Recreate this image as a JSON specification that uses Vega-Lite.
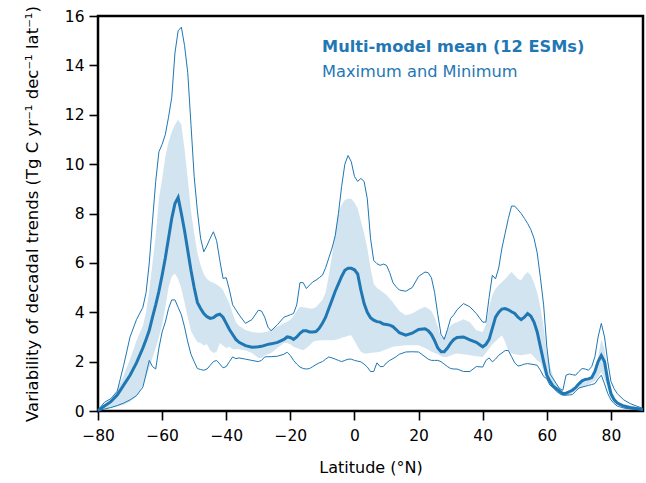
{
  "$schema": "https://vega.github.io/schema/vega-lite/v6.json",
  "width": 545,
  "height": 395,
  "autosize": {"type": "none"},
  "padding": {"left": 98, "top": 16, "right": 3, "bottom": 72},
  "config": {
    "font": "DejaVu Sans",
    "view": {"stroke": "black", "strokeWidth": 2.5},
    "axis": {
      "grid": false,
      "domain": false,
      "labelFontSize": 15.5,
      "titleFontSize": 16,
      "labelColor": "black",
      "titleColor": "black",
      "titleFontWeight": "normal",
      "tickColor": "black",
      "tickSize": 9,
      "tickWidth": 1.6,
      "labelPadding": 5,
      "labelFlush": false
    }
  },
  "data": {"values": [
    {"lat":-80,"mean":0.02,"max":0.03,"min":0.0,"lo":0.0,"hi":0.02},
    {"lat":-78,"mean":0.2,"max":0.35,"min":0.08,"lo":0.08,"hi":0.22},
    {"lat":-76,"mean":0.38,"max":0.5,"min":0.14,"lo":0.13,"hi":0.45},
    {"lat":-74,"mean":0.65,"max":0.8,"min":0.22,"lo":0.18,"hi":0.85},
    {"lat":-72,"mean":1.05,"max":1.85,"min":0.32,"lo":0.25,"hi":1.45},
    {"lat":-70,"mean":1.45,"max":3.0,"min":0.45,"lo":0.38,"hi":2.1},
    {"lat":-68,"mean":1.95,"max":3.7,"min":0.62,"lo":0.6,"hi":2.85},
    {"lat":-66,"mean":2.55,"max":4.2,"min":0.97,"lo":1.05,"hi":3.45},
    {"lat":-65,"mean":2.9,"max":4.8,"min":1.5,"lo":1.38,"hi":4.0},
    {"lat":-64,"mean":3.27,"max":6.0,"min":2.05,"lo":1.75,"hi":4.9},
    {"lat":-63,"mean":3.8,"max":7.7,"min":1.8,"lo":2.15,"hi":6.0},
    {"lat":-62,"mean":4.3,"max":9.3,"min":1.7,"lo":2.55,"hi":7.1},
    {"lat":-61,"mean":4.85,"max":10.5,"min":2.55,"lo":3.0,"hi":8.6},
    {"lat":-60,"mean":5.5,"max":10.8,"min":3.2,"lo":3.5,"hi":9.4},
    {"lat":-59,"mean":6.2,"max":11.2,"min":3.6,"lo":4.2,"hi":10.3},
    {"lat":-58,"mean":7.0,"max":11.9,"min":4.15,"lo":5.0,"hi":10.9},
    {"lat":-57,"mean":7.8,"max":12.7,"min":4.5,"lo":5.45,"hi":11.3},
    {"lat":-56,"mean":8.4,"max":14.5,"min":4.5,"lo":5.57,"hi":11.6},
    {"lat":-55,"mean":8.65,"max":15.4,"min":4.2,"lo":5.35,"hi":11.8},
    {"lat":-54,"mean":8.0,"max":15.55,"min":3.9,"lo":4.95,"hi":11.6},
    {"lat":-53,"mean":7.3,"max":14.8,"min":3.4,"lo":4.4,"hi":10.6},
    {"lat":-52,"mean":6.5,"max":13.7,"min":2.8,"lo":3.8,"hi":9.4},
    {"lat":-51,"mean":5.7,"max":11.6,"min":2.3,"lo":3.25,"hi":8.1},
    {"lat":-50,"mean":5.0,"max":9.5,"min":2.0,"lo":3.0,"hi":7.2},
    {"lat":-49,"mean":4.4,"max":8.1,"min":1.72,"lo":2.8,"hi":6.4},
    {"lat":-48,"mean":4.15,"max":7.0,"min":1.68,"lo":2.75,"hi":5.9},
    {"lat":-47,"mean":3.95,"max":6.45,"min":1.65,"lo":2.65,"hi":5.55},
    {"lat":-46,"mean":3.82,"max":6.7,"min":1.7,"lo":2.7,"hi":5.35},
    {"lat":-45,"mean":3.75,"max":7.0,"min":1.85,"lo":2.45,"hi":5.25},
    {"lat":-44,"mean":3.78,"max":7.26,"min":2.0,"lo":2.35,"hi":5.2},
    {"lat":-43,"mean":3.88,"max":6.9,"min":2.05,"lo":2.4,"hi":5.12},
    {"lat":-42,"mean":3.92,"max":6.1,"min":1.9,"lo":2.75,"hi":5.03},
    {"lat":-41,"mean":3.8,"max":5.37,"min":1.75,"lo":2.65,"hi":4.9},
    {"lat":-40,"mean":3.55,"max":5.4,"min":1.8,"lo":2.55,"hi":4.62},
    {"lat":-39,"mean":3.3,"max":4.9,"min":2.0,"lo":2.6,"hi":4.35},
    {"lat":-38,"mean":3.1,"max":4.3,"min":2.19,"lo":2.5,"hi":3.95},
    {"lat":-37,"mean":2.9,"max":4.1,"min":2.12,"lo":2.5,"hi":3.6},
    {"lat":-36,"mean":2.78,"max":3.9,"min":2.15,"lo":2.5,"hi":3.45},
    {"lat":-34,"mean":2.65,"max":3.55,"min":2.1,"lo":2.45,"hi":3.28},
    {"lat":-32,"mean":2.58,"max":3.7,"min":2.05,"lo":2.35,"hi":3.2},
    {"lat":-30,"mean":2.6,"max":4.08,"min":2.0,"lo":2.15,"hi":3.17},
    {"lat":-29,"mean":2.62,"max":4.05,"min":2.05,"lo":2.15,"hi":3.17},
    {"lat":-28,"mean":2.66,"max":3.8,"min":2.19,"lo":2.25,"hi":3.2},
    {"lat":-27,"mean":2.7,"max":3.4,"min":2.2,"lo":2.3,"hi":3.22},
    {"lat":-26,"mean":2.72,"max":3.25,"min":2.2,"lo":2.35,"hi":3.3},
    {"lat":-24,"mean":2.78,"max":3.5,"min":2.22,"lo":2.55,"hi":3.42},
    {"lat":-22,"mean":2.9,"max":3.8,"min":2.3,"lo":2.75,"hi":3.55},
    {"lat":-21,"mean":3.0,"max":3.85,"min":2.38,"lo":2.75,"hi":3.62},
    {"lat":-20,"mean":2.98,"max":3.9,"min":2.25,"lo":2.7,"hi":3.7},
    {"lat":-19,"mean":2.9,"max":3.95,"min":2.05,"lo":2.6,"hi":3.85},
    {"lat":-18,"mean":3.0,"max":4.3,"min":1.9,"lo":2.55,"hi":4.05},
    {"lat":-17,"mean":3.15,"max":5.2,"min":1.78,"lo":2.5,"hi":4.22},
    {"lat":-16,"mean":3.25,"max":5.2,"min":1.72,"lo":2.46,"hi":4.2},
    {"lat":-15,"mean":3.25,"max":4.96,"min":1.7,"lo":2.55,"hi":4.18},
    {"lat":-14,"mean":3.2,"max":5.1,"min":1.72,"lo":2.65,"hi":4.15},
    {"lat":-13,"mean":3.2,"max":5.23,"min":1.8,"lo":2.8,"hi":4.15},
    {"lat":-12,"mean":3.22,"max":5.3,"min":1.88,"lo":2.85,"hi":4.2},
    {"lat":-11,"mean":3.35,"max":5.4,"min":1.95,"lo":2.86,"hi":4.35},
    {"lat":-10,"mean":3.55,"max":5.5,"min":2.0,"lo":2.87,"hi":4.5},
    {"lat":-9,"mean":3.8,"max":5.8,"min":2.1,"lo":2.87,"hi":4.8},
    {"lat":-8,"mean":4.15,"max":6.2,"min":2.19,"lo":2.87,"hi":5.5},
    {"lat":-7,"mean":4.5,"max":6.6,"min":2.15,"lo":2.87,"hi":6.3},
    {"lat":-6,"mean":4.85,"max":7.1,"min":2.1,"lo":2.88,"hi":7.3},
    {"lat":-5,"mean":5.15,"max":8.0,"min":2.05,"lo":2.92,"hi":8.05},
    {"lat":-4,"mean":5.45,"max":9.1,"min":2.0,"lo":2.97,"hi":8.35},
    {"lat":-3,"mean":5.7,"max":10.0,"min":2.05,"lo":3.0,"hi":8.55},
    {"lat":-2,"mean":5.78,"max":10.35,"min":2.1,"lo":3.05,"hi":8.6},
    {"lat":-1,"mean":5.78,"max":10.1,"min":2.1,"lo":3.07,"hi":8.6},
    {"lat":0,"mean":5.72,"max":9.5,"min":2.05,"lo":2.85,"hi":8.45},
    {"lat":1,"mean":5.55,"max":9.3,"min":2.02,"lo":2.6,"hi":8.2},
    {"lat":2,"mean":4.9,"max":9.42,"min":1.99,"lo":2.4,"hi":7.7},
    {"lat":3,"mean":4.35,"max":9.3,"min":1.9,"lo":2.33,"hi":7.2},
    {"lat":4,"mean":4.0,"max":8.6,"min":1.78,"lo":2.33,"hi":6.6},
    {"lat":5,"mean":3.78,"max":7.0,"min":1.6,"lo":2.35,"hi":5.8},
    {"lat":6,"mean":3.68,"max":6.1,"min":1.6,"lo":2.37,"hi":5.15},
    {"lat":7,"mean":3.62,"max":5.97,"min":1.95,"lo":2.38,"hi":4.98},
    {"lat":8,"mean":3.6,"max":5.9,"min":1.8,"lo":2.4,"hi":4.9},
    {"lat":9,"mean":3.52,"max":5.95,"min":1.8,"lo":2.45,"hi":4.8},
    {"lat":10,"mean":3.5,"max":5.9,"min":1.95,"lo":2.5,"hi":4.7},
    {"lat":11,"mean":3.48,"max":5.6,"min":2.05,"lo":2.55,"hi":4.55},
    {"lat":12,"mean":3.42,"max":5.2,"min":2.12,"lo":2.6,"hi":4.4},
    {"lat":13,"mean":3.3,"max":5.03,"min":2.2,"lo":2.62,"hi":4.22},
    {"lat":14,"mean":3.17,"max":4.9,"min":2.3,"lo":2.63,"hi":4.05},
    {"lat":16,"mean":3.07,"max":4.85,"min":2.39,"lo":2.66,"hi":3.88},
    {"lat":18,"mean":3.15,"max":5.0,"min":2.4,"lo":2.66,"hi":3.95},
    {"lat":20,"mean":3.3,"max":5.45,"min":2.39,"lo":2.66,"hi":4.1},
    {"lat":22,"mean":3.33,"max":5.63,"min":2.2,"lo":2.55,"hi":4.22},
    {"lat":23,"mean":3.25,"max":5.6,"min":2.1,"lo":2.48,"hi":4.15},
    {"lat":24,"mean":3.1,"max":5.4,"min":2.05,"lo":2.4,"hi":4.05},
    {"lat":25,"mean":2.85,"max":4.8,"min":2.05,"lo":2.35,"hi":3.8},
    {"lat":26,"mean":2.55,"max":3.9,"min":2.05,"lo":2.3,"hi":3.4},
    {"lat":27,"mean":2.4,"max":3.1,"min":2.0,"lo":2.22,"hi":3.0},
    {"lat":28,"mean":2.4,"max":2.9,"min":1.9,"lo":2.18,"hi":3.0},
    {"lat":29,"mean":2.55,"max":3.3,"min":1.8,"lo":2.2,"hi":3.3},
    {"lat":30,"mean":2.75,"max":3.75,"min":1.72,"lo":2.25,"hi":3.45},
    {"lat":31,"mean":2.9,"max":3.9,"min":1.7,"lo":2.3,"hi":3.55},
    {"lat":32,"mean":2.98,"max":4.1,"min":1.7,"lo":2.33,"hi":3.6},
    {"lat":34,"mean":3.0,"max":4.35,"min":1.6,"lo":2.3,"hi":3.72},
    {"lat":36,"mean":2.88,"max":4.22,"min":1.6,"lo":2.26,"hi":3.6},
    {"lat":38,"mean":2.78,"max":3.95,"min":1.8,"lo":2.22,"hi":3.27},
    {"lat":40,"mean":2.6,"max":3.6,"min":1.78,"lo":2.19,"hi":3.2},
    {"lat":41,"mean":2.7,"max":3.6,"min":2.05,"lo":2.35,"hi":3.5},
    {"lat":42,"mean":2.9,"max":4.6,"min":2.15,"lo":2.53,"hi":4.2},
    {"lat":43,"mean":3.35,"max":5.5,"min":1.99,"lo":2.7,"hi":4.7},
    {"lat":44,"mean":3.8,"max":5.35,"min":2.1,"lo":2.82,"hi":4.95},
    {"lat":45,"mean":4.0,"max":5.8,"min":2.26,"lo":2.95,"hi":5.1},
    {"lat":46,"mean":4.13,"max":6.6,"min":2.35,"lo":3.07,"hi":5.23},
    {"lat":47,"mean":4.15,"max":7.2,"min":2.45,"lo":2.8,"hi":5.35},
    {"lat":48,"mean":4.1,"max":7.8,"min":2.45,"lo":2.45,"hi":5.5},
    {"lat":49,"mean":4.02,"max":8.3,"min":2.2,"lo":2.33,"hi":5.63},
    {"lat":50,"mean":3.95,"max":8.3,"min":1.95,"lo":2.3,"hi":5.5},
    {"lat":51,"mean":3.8,"max":8.15,"min":1.82,"lo":2.28,"hi":5.35},
    {"lat":52,"mean":3.7,"max":8.0,"min":1.85,"lo":2.26,"hi":5.3},
    {"lat":53,"mean":3.8,"max":7.8,"min":1.9,"lo":2.28,"hi":5.5},
    {"lat":54,"mean":3.95,"max":7.6,"min":1.92,"lo":2.3,"hi":5.63},
    {"lat":55,"mean":3.85,"max":7.35,"min":1.9,"lo":2.33,"hi":5.5},
    {"lat":56,"mean":3.6,"max":7.0,"min":1.88,"lo":2.2,"hi":5.2},
    {"lat":57,"mean":3.2,"max":6.4,"min":1.85,"lo":2.05,"hi":4.8},
    {"lat":58,"mean":2.6,"max":5.4,"min":1.65,"lo":1.95,"hi":4.2},
    {"lat":59,"mean":2.0,"max":4.3,"min":1.4,"lo":1.6,"hi":3.4},
    {"lat":60,"mean":1.45,"max":2.6,"min":1.3,"lo":1.3,"hi":2.4},
    {"lat":61,"mean":1.2,"max":1.5,"min":1.04,"lo":1.05,"hi":1.8},
    {"lat":62,"mean":1.0,"max":1.3,"min":0.95,"lo":0.9,"hi":1.4},
    {"lat":63,"mean":0.9,"max":1.1,"min":0.8,"lo":0.78,"hi":1.1},
    {"lat":64,"mean":0.8,"max":0.9,"min":0.7,"lo":0.7,"hi":0.95},
    {"lat":65,"mean":0.7,"max":0.84,"min":0.64,"lo":0.64,"hi":0.8},
    {"lat":66,"mean":0.72,"max":1.45,"min":0.64,"lo":0.63,"hi":0.76},
    {"lat":67,"mean":0.78,"max":1.5,"min":0.65,"lo":0.67,"hi":0.85},
    {"lat":68,"mean":0.84,"max":1.47,"min":0.67,"lo":0.72,"hi":0.95},
    {"lat":69,"mean":0.95,"max":1.45,"min":0.8,"lo":0.84,"hi":1.0},
    {"lat":70,"mean":1.1,"max":1.6,"min":0.93,"lo":0.9,"hi":1.1},
    {"lat":71,"mean":1.22,"max":1.72,"min":0.97,"lo":0.95,"hi":1.15},
    {"lat":72,"mean":1.28,"max":1.7,"min":1.0,"lo":1.0,"hi":1.2},
    {"lat":73,"mean":1.3,"max":1.65,"min":1.04,"lo":1.08,"hi":1.25},
    {"lat":74,"mean":1.35,"max":1.8,"min":1.07,"lo":1.15,"hi":1.35},
    {"lat":75,"mean":1.6,"max":2.2,"min":1.11,"lo":1.22,"hi":1.55},
    {"lat":76,"mean":2.0,"max":3.0,"min":1.3,"lo":1.4,"hi":2.2},
    {"lat":77,"mean":2.25,"max":3.55,"min":1.45,"lo":1.58,"hi":2.9},
    {"lat":78,"mean":2.0,"max":3.0,"min":1.1,"lo":1.3,"hi":2.5},
    {"lat":79,"mean":1.25,"max":2.0,"min":0.71,"lo":0.9,"hi":1.6},
    {"lat":80,"mean":0.7,"max":1.2,"min":0.45,"lo":0.55,"hi":0.9},
    {"lat":81,"mean":0.45,"max":0.9,"min":0.3,"lo":0.35,"hi":0.6},
    {"lat":82,"mean":0.32,"max":0.7,"min":0.2,"lo":0.25,"hi":0.42},
    {"lat":84,"mean":0.2,"max":0.45,"min":0.12,"lo":0.13,"hi":0.2},
    {"lat":86,"mean":0.14,"max":0.3,"min":0.08,"lo":0.08,"hi":0.12},
    {"lat":88,"mean":0.1,"max":0.2,"min":0.06,"lo":0.05,"hi":0.08},
    {"lat":90,"mean":0.06,"max":0.1,"min":0.04,"lo":0.03,"hi":0.05}
  ]},
  "layer": [
    {
      "mark": {"type": "area", "color": "#1f77b4", "opacity": 0.2},
      "encoding": {
        "x": {
          "field": "lat", "type": "quantitative",
          "scale": {"domain": [-80, 90], "nice": false, "zero": false},
          "axis": {"values": [-80, -60, -40, -20, 0, 20, 40, 60, 80], "title": "Latitude (°N)", "labelPadding": 8, "titlePadding": 16}
        },
        "y": {
          "field": "lo", "type": "quantitative",
          "scale": {"domain": [0, 16], "nice": false},
          "axis": {"values": [0, 2, 4, 6, 8, 10, 12, 14, 16], "title": "Variability of decadal trends (Tg C yr⁻¹ dec⁻¹ lat⁻¹)", "titlePadding": 24, "titleFontSize": 16.5}
        },
        "y2": {"field": "hi"}
      }
    },
    {
      "mark": {"type": "line", "color": "#1f77b4", "strokeWidth": 1},
      "encoding": {
        "x": {"field": "lat", "type": "quantitative"},
        "y": {"field": "max", "type": "quantitative"}
      }
    },
    {
      "mark": {"type": "line", "color": "#1f77b4", "strokeWidth": 1},
      "encoding": {
        "x": {"field": "lat", "type": "quantitative"},
        "y": {"field": "min", "type": "quantitative"}
      }
    },
    {
      "mark": {"type": "line", "color": "#1f77b4", "strokeWidth": 3},
      "encoding": {
        "x": {"field": "lat", "type": "quantitative"},
        "y": {"field": "mean", "type": "quantitative"}
      }
    },
    {
      "data": {"values": [{"label": "Multi-model mean (12 ESMs)"}]},
      "mark": {"type": "text", "align": "left", "baseline": "middle", "fontSize": 16.2, "fontWeight": "bold", "color": "#1f77b4"},
      "encoding": {
        "x": {"datum": -10.1, "type": "quantitative"},
        "y": {"datum": 14.76, "type": "quantitative"},
        "text": {"field": "label"}
      }
    },
    {
      "data": {"values": [{"label": "Maximum and Minimum"}]},
      "mark": {"type": "text", "align": "left", "baseline": "middle", "fontSize": 16.2, "color": "#1f77b4"},
      "encoding": {
        "x": {"datum": -10.1, "type": "quantitative"},
        "y": {"datum": 13.75, "type": "quantitative"},
        "text": {"field": "label"}
      }
    }
  ]
}
